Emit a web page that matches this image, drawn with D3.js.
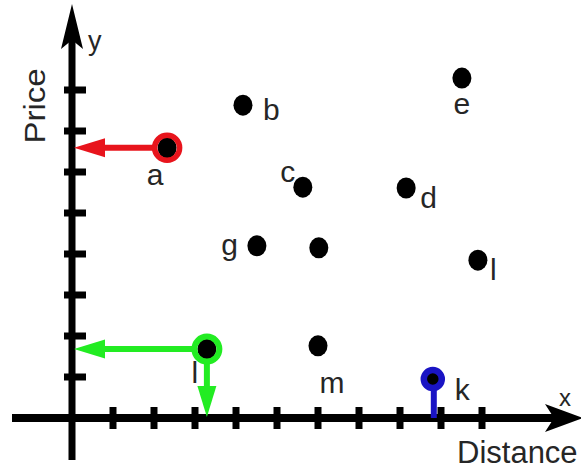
<!DOCTYPE html>
<html>
<head>
<meta charset="utf-8">
<script src="https://cdn.jsdelivr.net/npm/d3@7"></script>
<style>
  html, body { margin: 0; padding: 0; background: #fff; }
  svg { display: block; }
  text { font-family: "Liberation Sans", Arial, Helvetica, sans-serif; fill: #262626; }
</style>
</head>
<body>
<svg id="chart" width="581" height="470"></svg>
<script>
// Points in the distance / price plane
const pointLabels = ["a", "b", "c", "d", "e", "g", "", "l", "l", "m", "k"];
const distance    = [2.32, 4.17, 5.63, 8.15, 9.51, 4.51, 6.02, 9.90, 3.29, 6.00, 8.80];
const price       = [6.59, 7.63, 5.63, 5.61, 8.29, 4.20, 4.15, 3.85, 1.68, 1.76, 0.95];

// Tick positions along each axis
const xTicks = [1, 2, 3, 4, 5, 6, 7, 8, 9, 10];
const yTicks = [1, 2, 3, 4, 5, 6, 7, 8];

// Highlighted points: which one, and which axes it projects onto
const highlights = [
  { index: 0,  color: "#e8141c", toY: true,  toX: false, stem: false },
  { index: 8,  color: "#22ec22", toY: true,  toX: true,  stem: false },
  { index: 10, color: "#1a14c4", toY: false, toX: false, stem: true  }
];

const svg = d3.select("#chart");
const x = d3.scaleLinear().domain([0, 10]).range([72, 482]);
const y = d3.scaleLinear().domain([0, 8]).range([418, 90]);

const x0 = x(0), y0 = y(0);
const axisW = 8;

// ---- axes ----
const axes = svg.append("g");
axes.append("line").attr("x1", 12).attr("x2", 560).attr("y1", y0).attr("y2", y0)
  .attr("stroke", "#000").attr("stroke-width", axisW);
axes.append("line").attr("x1", x0).attr("x2", x0).attr("y1", 460).attr("y2", 20)
  .attr("stroke", "#000").attr("stroke-width", axisW - 1);

// arrow heads
axes.append("path")
  .attr("d", `M${x0},4 L${x0 + 11},49 L${x0},40 L${x0 - 11},49 Z`)
  .attr("fill", "#000");
axes.append("path")
  .attr("d", `M583,${y0} L545,${y0 - 14} L554,${y0} L545,${y0 + 14} Z`)
  .attr("fill", "#000");

// ticks
axes.selectAll(".xt").data(xTicks).join("line")
  .attr("x1", d => x(d)).attr("x2", d => x(d))
  .attr("y1", y0 - 11).attr("y2", y0 + 11)
  .attr("stroke", "#000").attr("stroke-width", 7);
axes.selectAll(".yt").data(yTicks).join("line")
  .attr("x1", x0 - 8).attr("x2", x0 + 14)
  .attr("y1", d => y(d)).attr("y2", d => y(d))
  .attr("stroke", "#000").attr("stroke-width", 7);

// axis titles
svg.append("text").attr("x", 88).attr("y", 50).attr("font-size", 27).text("y");
svg.append("text").attr("x", 559).attr("y", 406).attr("font-size", 24).text("x");
svg.append("text").attr("x", 457).attr("y", 463).attr("font-size", 31).text("Distance");
svg.append("text")
  .attr("transform", "translate(45,106) rotate(-90) scale(1.1,1)")
  .attr("text-anchor", "middle").attr("font-size", 30).text("Price");

// ---- projection arrows ----
function arrow(g, x1, y1, x2, y2, color) {
  const ang = Math.atan2(y2 - y1, x2 - x1);
  const headLen = 31, headHalf = 9.5;
  const bx = x2 - headLen * Math.cos(ang), by = y2 - headLen * Math.sin(ang);
  g.append("line").attr("x1", x1).attr("y1", y1).attr("x2", bx).attr("y2", by)
    .attr("stroke", color).attr("stroke-width", 6);
  const px = -Math.sin(ang) * headHalf, py = Math.cos(ang) * headHalf;
  g.append("path")
    .attr("d", `M${x2},${y2} L${bx + px},${by + py} L${bx - px},${by - py} Z`)
    .attr("fill", color);
}

const proj = svg.append("g");
highlights.forEach(h => {
  const cx = x(distance[h.index]), cy = y(price[h.index]);
  if (h.toY) arrow(proj, cx - 14, cy, x0 + 2, cy, h.color);
  if (h.toX) arrow(proj, cx, cy + 14, cx, y0 - 1, h.color);
  if (h.stem) proj.append("line").attr("x1", cx + 1).attr("x2", cx + 1)
    .attr("y1", cy + 10).attr("y2", y0)
    .attr("stroke", h.color).attr("stroke-width", 6);
});

// ---- points ----
svg.append("g").selectAll("ellipse").data(distance).join("ellipse")
  .attr("cx", (d, i) => x(d)).attr("cy", (d, i) => y(price[i]))
  .attr("rx", 9.5).attr("ry", 10.5)
  .attr("fill", "#000");

// rings around highlighted points
const ringSize = { 0: [12.5, 5.5], 8: [12.5, 6], 10: [9, 6.5] };
svg.append("g").selectAll("circle").data(highlights).join("circle")
  .attr("cx", h => x(distance[h.index])).attr("cy", h => y(price[h.index]))
  .attr("r", h => ringSize[h.index][0])
  .attr("fill", "none").attr("stroke", h => h.color)
  .attr("stroke-width", h => ringSize[h.index][1]);

// point labels: [dx, dy, anchor]
const labelPlace = [
  [-12, 37, "middle"], [20, 15, "start"], [-15, -5, "middle"], [14, 20, "start"],
  [0, 36, "middle"], [-19, 9, "end"], [0, 0, "start"], [12, 20, "start"],
  [-12, 34, "middle"], [14, 47, "middle"], [22, 21, "start"]
];
svg.append("g").selectAll("text").data(pointLabels).join("text")
  .attr("x", (d, i) => x(distance[i]) + labelPlace[i][0])
  .attr("y", (d, i) => y(price[i]) + labelPlace[i][1])
  .attr("text-anchor", (d, i) => labelPlace[i][2])
  .attr("font-size", 30)
  .text(d => d);
</script>
</body>
</html>
